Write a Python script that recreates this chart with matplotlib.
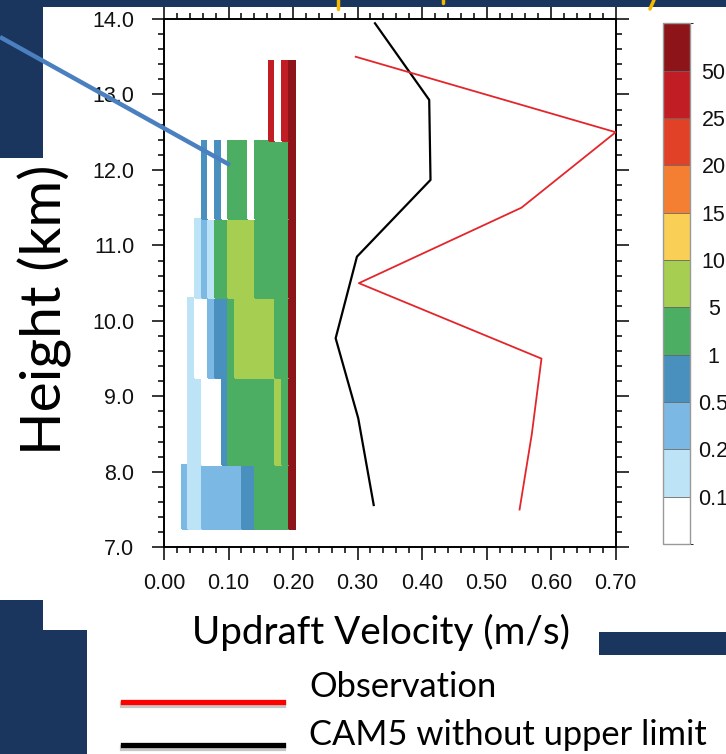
import numpy as np
import matplotlib
matplotlib.use("Agg")
import matplotlib.pyplot as plt
from matplotlib.colors import ListedColormap, BoundaryNorm
from matplotlib.patches import Rectangle
from matplotlib.lines import Line2D
from matplotlib.ticker import MultipleLocator

# ---------------- data ----------------
# velocity bin edges (m/s) and height level edges (km) of the frequency histogram
vel_edges = [0.0274, 0.0378, 0.0481, 0.0585, 0.0688, 0.0792, 0.0895, 0.0999, 0.1102,
             0.1206, 0.1309, 0.1413, 0.1516, 0.1620, 0.1723, 0.1827, 0.1930, 0.2034]
height_edges = [7.238, 8.090, 9.247, 10.299, 11.346, 12.384, 13.444]

N = np.nan
# frequency (%) of each velocity bin in each height layer (bottom -> top)
freq_l1 = [0.3, 0.15, 0.15, 0.3, 0.3, 0.3, 0.3, 0.3, 0.3, 0.7, 0.7, 3, 3, 3, 3, 3, 60]
freq_l2 = [N, 0.15, 0.15, 0.05, 0.05, 0.05, 0.7, 3, 3, 3, 3, 3, 3, 3, 7, 3, 60]
freq_l3 = [N, 0.15, 0.05, 0.05, 0.3, 0.7, 0.7, 3, 7, 7, 7, 7, 7, 7, 3, 3, 60]
freq_l4 = [N, N, 0.15, 0.3, 0.15, 3, 3, 7, 7, 7, 7, 3, 3, 3, 3, 3, 60]
freq_l5 = [N, N, N, 0.7, 0.05, 0.7, 0.05, 3, 3, 3, 0.05, 3, 3, 3, 3, 3, 60]
freq_l6 = [N, N, N, N, N, N, N, N, N, N, N, N, N, 30, 0.05, 30, 60]

# mean updraft profiles
obs_height = [13.5, 12.5, 11.5, 10.5, 9.5, 8.5, 7.5]
obs_vel = [0.297, 0.700, 0.554, 0.302, 0.585, 0.570, 0.551]
cam_height = [13.943, 12.928, 11.868, 10.851, 9.770, 8.710, 7.560]
cam_vel = [0.327, 0.411, 0.413, 0.299, 0.266, 0.301, 0.325]

cb_levels = [0.1, 0.2, 0.5, 1, 5, 10, 15, 20, 25, 50]
cb_labels = ["0.1", "0.2", "0.5", "1", "5", "10", "15", "20", "25", "50"]
cb_colors = ["#ffffff", "#bde3f7", "#7bb9e4", "#4a90bf", "#4bae63", "#a6ce50",
             "#f9cf56", "#f47e31", "#e14126", "#c01d25", "#8d1519"]

# ---------------- figure ----------------
W, H = 726, 754
fig = plt.figure(figsize=(W / 100, H / 100), dpi=100)
fig.patch.set_facecolor("white")

def fx(x):
    return x / W

def fy(y):
    return 1 - y / H

navy = "#1a365e"
def navy_rect(x0, y0, x1, y1):
    fig.patches.append(Rectangle((fx(x0), fy(y1)), (x1 - x0) / W, (y1 - y0) / H,
                                 transform=fig.transFigure, facecolor=navy,
                                 edgecolor="none", zorder=0))

navy_rect(0, 0, 726, 7)
navy_rect(0, 0, 43, 158)
navy_rect(0, 600, 43, 754)
navy_rect(0, 630, 87, 754)
navy_rect(599, 632, 726, 655)

# orange fragments of the slide title (clipped at top)
for (xa, ya, xb, yb) in [(338, 0, 338, 9), (443, 0, 443, 3), (654, 0, 650, 9)]:
    fig.add_artist(Line2D([fx(xa), fx(xb)], [fy(ya), fy(yb)], transform=fig.transFigure,
                          color="#f5b800", lw=2.5, solid_capstyle="round", zorder=1))

ax = fig.add_axes([fx(164), fy(547.3), (615.7 - 164) / W, (547.3 - 19) / H])
cax = fig.add_axes([fx(663.3), fy(544), (690 - 663.3) / W, (544 - 23.3) / H])

cmap = ListedColormap(cb_colors)
bounds = [0.0] + cb_levels + [100.0]
norm = BoundaryNorm(bounds, ncolors=len(cb_colors))

C = np.array([freq_l1, freq_l2, freq_l3, freq_l4, freq_l5, freq_l6], dtype=float)
C = np.ma.masked_invalid(C)
mesh = ax.pcolormesh(vel_edges, height_edges, C, cmap=cmap, norm=norm,
                     edgecolors="face", linewidth=0.3, zorder=1)

ax.plot(cam_vel, cam_height, color="black", lw=1.6, zorder=3)
ax.plot(obs_vel, obs_height, color="#e3262c", lw=1.3, zorder=3)

ax.set_xlim(0, 0.7)
ax.set_ylim(7, 14)
ax.set_xticks(np.arange(0, 0.701, 0.1))
ax.set_xticklabels(["%.2f" % v for v in np.arange(0, 0.701, 0.1)])
ax.set_yticks(np.arange(7, 14.01, 1))
ax.set_yticklabels(["%.1f" % v for v in np.arange(7, 14.01, 1)])
ax.xaxis.set_minor_locator(MultipleLocator(0.02))
ax.yaxis.set_minor_locator(MultipleLocator(0.2))
ax.tick_params(which="both", direction="out", top=True, right=True,
               labeltop=False, labelright=False, width=1.1, color="black")
ax.tick_params(which="major", length=9)
ax.tick_params(which="minor", length=4.3)
ax.tick_params(axis="x", which="major", pad=9.5)
ax.tick_params(axis="y", which="major", pad=12.5)
for lab in ax.get_xticklabels() + ax.get_yticklabels():
    lab.set_fontfamily("Liberation Sans")
    lab.set_fontsize(15.5)
    lab.set_color("#111111")
for s in ax.spines.values():
    s.set_linewidth(1.4)

# colorbar
sm = matplotlib.cm.ScalarMappable(cmap=cmap, norm=norm)
cb = fig.colorbar(sm, cax=cax, spacing="uniform", drawedges=True)
cb.set_ticks(cb_levels)
cb.set_ticklabels(cb_labels)
cb.outline.set_edgecolor("#999999")
cb.outline.set_linewidth(1.0)
cb.dividers.set_color("#666666")
cb.dividers.set_linewidth(0.6)
cax.tick_params(length=0, pad=17)
for lab in cax.get_yticklabels():
    lab.set_fontfamily("Liberation Sans")
    lab.set_fontsize(15.5)
    lab.set_horizontalalignment("center")
    lab.set_color("#111111")

# callout line
fig.add_artist(Line2D([fx(0), fx(230)], [fy(37), fy(165)], transform=fig.transFigure,
                      color="#4a7fc0", lw=3.2, solid_capstyle="butt", zorder=10))

# slide texts
tf = "Lato"
fig.text(fx(45), fy(310), "Height (km)", rotation=90, ha="center", va="center",
         fontsize=41, fontfamily=tf, color="black")
fig.text(fx(381), fy(632), "Updraft Velocity (m/s)", ha="center", va="center",
         fontsize=27.8, fontfamily=tf, color="black")
fig.text(fx(309), fy(687), "Observation", ha="left", va="center",
         fontsize=24.8, fontfamily=tf, color="black")
fig.text(fx(309), fy(735), "CAM5 without upper limit", ha="left", va="center",
         fontsize=24.8, fontfamily=tf, color="black")

# legend line samples with soft shadow
for (yy, col) in [(702, "#ff0000"), (745, "black")]:
    fig.add_artist(Line2D([fx(123), fx(283)], [fy(yy + 3), fy(yy + 3)], transform=fig.transFigure,
                          color="#b0b0b0", lw=4.5, alpha=0.7, zorder=4))
    fig.add_artist(Line2D([fx(123), fx(283)], [fy(yy), fy(yy)], transform=fig.transFigure,
                          color=col, lw=3.8, zorder=5))

fig.savefig("out.png", dpi=100)
